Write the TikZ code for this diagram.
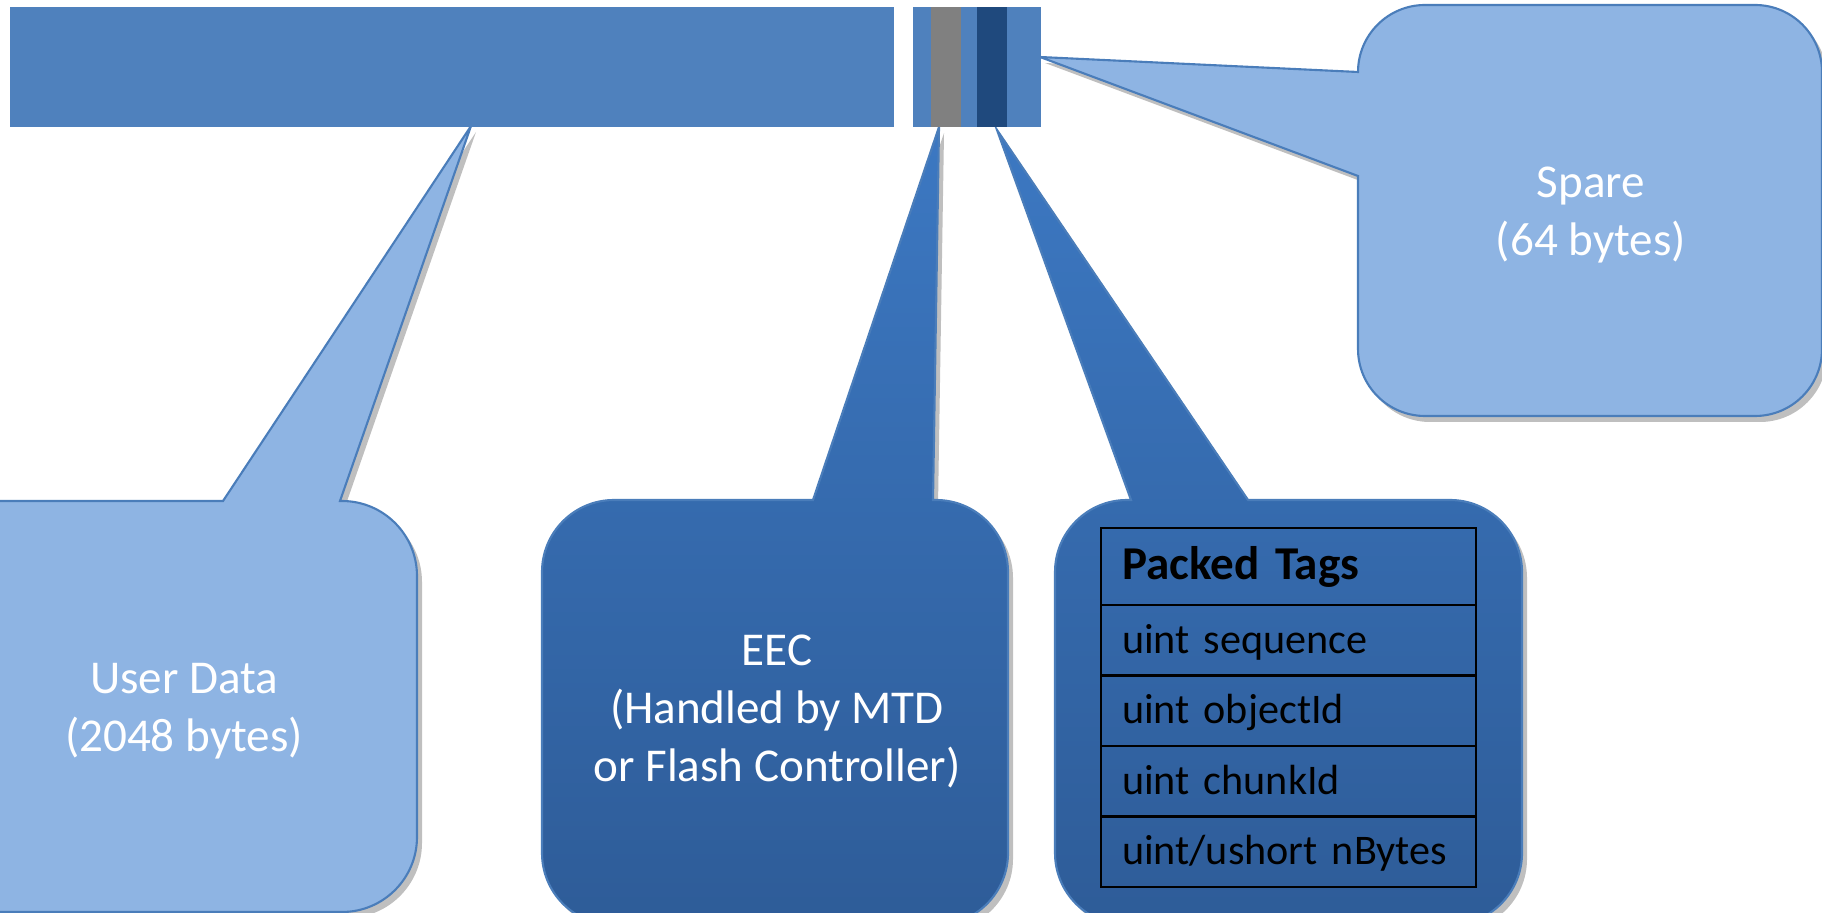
\documentclass[tikz,border=0pt]{standalone}
\usepackage{fontspec}
\setmainfont{Carlito}
\usetikzlibrary{positioning, shadows}
\definecolor{cbar}{HTML}{4F81BD}
\definecolor{cgrey}{HTML}{808080}
\definecolor{cnavy}{HTML}{1F497D}
\definecolor{clight}{HTML}{8EB4E3}
\definecolor{cedge}{HTML}{4A7DBA}
\definecolor{cdarktop}{HTML}{3C78C2}
\definecolor{cdarkbot}{HTML}{2E5C98}
\tikzset{
  every picture/.style={line width=0.6pt},
  seg/.style={fill=#1, draw=none, anchor=north west, inner sep=0pt, minimum height=1.2cm},
  seg/.default=cbar,
  callshadow/.style={drop shadow={shadow xshift=0.05cm, shadow yshift=-0.06cm, opacity=0.25, fill=black}},
  lightcall/.style={fill=clight, draw=cedge, callshadow},
  darkcall/.style={top color=cdarktop, bottom color=cdarkbot, draw=cedge, callshadow},
  calltext/.style={text=white, align=center, font=\fontsize{13.4}{16.5}\selectfont},
  tagrow/.style={draw=black, line width=0.75pt, anchor=north west, minimum width=3.75cm, minimum height=0.705cm,
    text width=3.33cm, inner xsep=0.21cm, inner ysep=0pt, outer sep=0pt, text height=0.36cm, text depth=0.1cm,
    font=\fontsize{12}{14.5}\selectfont},
}
\begin{document}
\begin{tikzpicture}
  \useasboundingbox (0,0) rectangle (18.22,-9.13);
  % pointer tips on the page bar
  \coordinate (usertip) at (4.71,-1.26);
  \coordinate (eectip) at (9.39,-1.27);
  \coordinate (tagstip) at (9.97,-1.30);
  \coordinate (sparetip) at (10.40,-0.57);
  % callouts
  \draw[lightcall] (2.23,-5.01) -- (usertip) -- (3.40,-5.01) -- (3.42,-5.01)
    arc[start angle=90, end angle=0, radius=0.75] -- (4.17,-8.37)
    arc[start angle=0, end angle=-90, radius=0.75] -- (-0.25,-9.12)
    arc[start angle=-90, end angle=-180, radius=0.75] -- (-1.0,-5.76)
    arc[start angle=180, end angle=90, radius=0.75] -- cycle;
  \draw[darkcall] (8.13,-5.00) -- (eectip) -- (9.33,-5.00) -- (9.36,-5.00)
    arc[start angle=90, end angle=0, radius=0.72] -- (10.08,-8.53)
    arc[start angle=0, end angle=-90, radius=0.72] -- (6.14,-9.25)
    arc[start angle=-90, end angle=-180, radius=0.72] -- (5.42,-5.72)
    arc[start angle=180, end angle=90, radius=0.72] -- cycle;
  \draw[darkcall] (11.31,-5.00) -- (tagstip) -- (12.48,-5.00) -- (14.50,-5.00)
    arc[start angle=90, end angle=0, radius=0.72] -- (15.22,-8.53)
    arc[start angle=0, end angle=-90, radius=0.72] -- (11.27,-9.25)
    arc[start angle=-90, end angle=-180, radius=0.72] -- (10.55,-5.72)
    arc[start angle=180, end angle=90, radius=0.72] -- cycle;
  \draw[lightcall] (13.58,-1.76) -- (sparetip) -- (13.58,-0.72)
    arc[start angle=180, end angle=90, radius=0.67] -- (17.55,-0.05)
    arc[start angle=90, end angle=0, radius=0.67] -- (18.22,-3.49)
    arc[start angle=0, end angle=-90, radius=0.67] -- (14.25,-4.16)
    arc[start angle=-90, end angle=-180, radius=0.67] -- cycle;
  % page bar: user data, then spare area with ECC and tags
  \node[seg, minimum width=8.84cm] (userbar) at (0.09,-0.06) {};
  \node[seg, minimum width=1.28cm] (sparebar) at (9.12,-0.06) {};
  \node[seg=cgrey, minimum width=0.30cm] (eecbar) at (9.30,-0.06) {};
  \node[seg=cnavy, minimum width=0.30cm] (tagsbar) at (9.76,-0.06) {};
  % labels
  \node[calltext] (usertxt) at (1.84,-7.11) {User Data\\(2048 bytes)};
  \node[calltext] (eectxt) at (7.77,-7.11) {EEC\\(Handled by MTD\\or Flash Controller)};
  \node[calltext] (sparetxt) at (15.91,-2.15) {Spare\\(64 bytes)};
  % packed tags table
  \node[tagrow, minimum height=0.77cm, font=\fontsize{13.4}{16.5}\selectfont\bfseries] (tagshead) at (11.01,-5.28) {Packed Tags};
  \node[tagrow, below=0pt of tagshead] (tagseq) {uint sequence};
  \node[tagrow, below=0pt of tagseq] (tagobj) {uint objectId};
  \node[tagrow, below=0pt of tagobj] (tagchunk) {uint chunkId};
  \node[tagrow, below=0pt of tagchunk] (tagbytes) {uint/ushort nBytes};
\end{tikzpicture}
\end{document}
